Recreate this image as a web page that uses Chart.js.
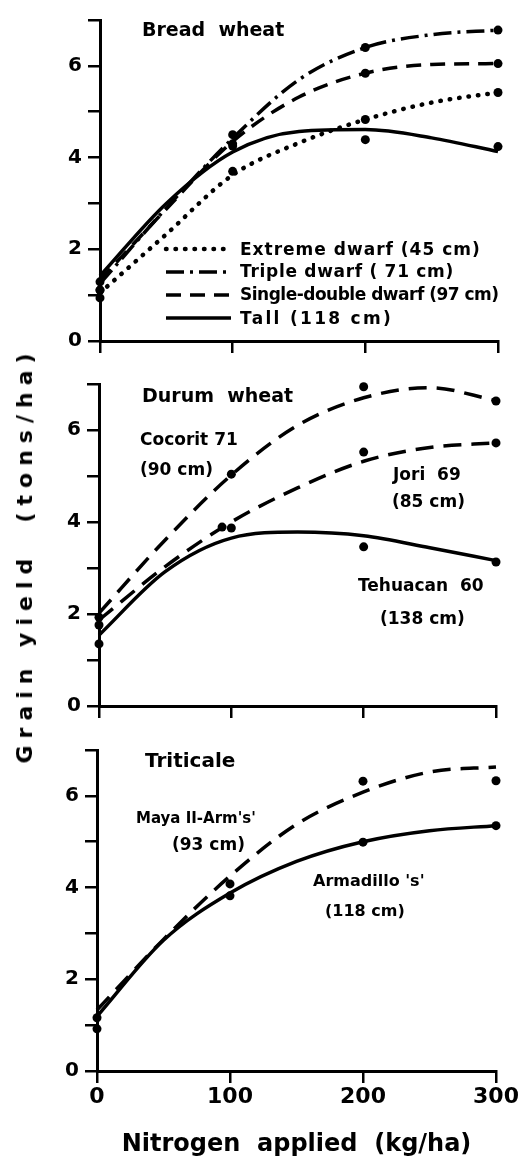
<!DOCTYPE html>
<html>
<head>
<meta charset="utf-8">
<script src="https://cdn.jsdelivr.net/npm/chart.js@4.4.1/dist/chart.umd.min.js"></script>
<style>
  body { margin: 0; background: #fff; }
  #page { position: relative; width: 524px; height: 1163px; overflow: hidden; background: #fff;
          font-family: 'DejaVu Sans', sans-serif; font-weight: bold; color: #000; }
  canvas { position: absolute; left: 0; }
  .lbl { position: absolute; white-space: pre; line-height: 1; }
  #ytitle { position: absolute; left: 25px; top: 555px; font-size: 22px; letter-spacing: 7px;
            white-space: pre; line-height: 1; transform: translate(-50%, -50%) rotate(-90deg); }
</style>
</head>
<body>
<div id="page">
  <canvas id="bread" width="524" height="370" style="top:0px"></canvas>
  <canvas id="durum" width="524" height="380" style="top:360px"></canvas>
  <canvas id="triticale" width="524" height="443" style="top:720px"></canvas>

  <div class="lbl" style="left:142px;top:20px;font-size:19px">Bread  wheat</div>
  <div class="lbl" style="left:240px;top:241px;font-size:17px;letter-spacing:1px">Extreme dwarf (45 cm)</div>
  <div class="lbl" style="left:240px;top:263px;font-size:17px;letter-spacing:0.7px">Triple dwarf ( 71 cm)</div>
  <div class="lbl" style="left:240px;top:286px;font-size:17px;letter-spacing:-0.5px">Single-double dwarf (97 cm)</div>
  <div class="lbl" style="left:240px;top:310px;font-size:17px;letter-spacing:2.3px">Tall (118 cm)</div>

  <div class="lbl" style="left:142px;top:386px;font-size:19px">Durum  wheat</div>
  <div class="lbl" style="left:140px;top:431px;font-size:17px">Cocorit 71</div>
  <div class="lbl" style="left:140px;top:461px;font-size:17px">(90 cm)</div>
  <div class="lbl" style="left:393px;top:466px;font-size:17px">Jori  69</div>
  <div class="lbl" style="left:392px;top:493px;font-size:17px">(85 cm)</div>
  <div class="lbl" style="left:358px;top:577px;font-size:17px">Tehuacan  60</div>
  <div class="lbl" style="left:380px;top:610px;font-size:17px">(138 cm)</div>

  <div class="lbl" style="left:145px;top:750px;font-size:20px">Triticale</div>
  <div class="lbl" style="left:136px;top:811px;font-size:15px">Maya II-Arm's'</div>
  <div class="lbl" style="left:172px;top:836px;font-size:17px">(93 cm)</div>
  <div class="lbl" style="left:313px;top:873px;font-size:16px">Armadillo 's'</div>
  <div class="lbl" style="left:325px;top:903px;font-size:16px">(118 cm)</div>

  <div id="ytitle">Grain yield  (tons/ha)</div>
</div>
<script>
// nitrogen levels (kg/ha)
const nitrogenObserved = [0, 100, 200, 300];
const nitrogenCurve = [0, 50, 100, 150, 200, 250, 300];

// Bread wheat - observed points and fitted curves (t/ha)
const extremeDwarfObs = [0.94, 3.70, 4.83, 5.42];
const tripleDwarfObs = [1.11, 4.50, 6.40, 6.78];
const singleDoubleObs = [1.11, 4.30, 5.84, 6.05];
const tallObs = [1.29, 4.25, 4.39, 4.24];
const extremeDwarfFit = [1.05, 2.33, 3.62, 4.32, 4.83, 5.20, 5.42];
const tripleDwarfFit = [1.25, 2.90, 4.42, 5.70, 6.40, 6.68, 6.78];
const singleDoubleFit = [1.33, 2.88, 4.35, 5.32, 5.84, 6.03, 6.05];
const tallFit = [1.42, 3.00, 4.12, 4.57, 4.61, 4.43, 4.13];

// Durum wheat
const cocoritObs = [1.93, 5.04, 6.94, 6.63];
const joriObsN = [0, 93, 200, 300];
const joriObs = [1.76, 3.89, 5.52, 5.72];
const tehuacanObs = [1.35, 3.87, 3.46, 3.13];
const cocoritFit = [2.02, 3.61, 5.02, 6.10, 6.70, 6.92, 6.64];
const joriFit = [1.87, 3.03, 4.00, 4.74, 5.32, 5.62, 5.72];
const tehuacanFit = [1.54, 2.92, 3.65, 3.78, 3.70, 3.44, 3.16];

// Triticale
const mayaObs = [1.16, 4.08, 6.32, 6.33];
const armadilloObs = [0.92, 3.82, 4.99, 5.35];
const mayaFit = [1.33, 2.87, 4.25, 5.38, 6.08, 6.52, 6.63];
const armadilloFit = [1.19, 2.85, 3.88, 4.57, 5.00, 5.24, 5.35];

const FONT = "'DejaVu Sans', sans-serif";
const SOLID = [];
const DASHED = [15, 9];
const LONG_DASH = [18, 10];
const DASH_DOT = [18, 6, 3, 6];
const DOTTED = [0.5, 9];

function curve(values, dash, cap) {
  return {
    data: nitrogenCurve.map((n, i) => ({ x: n, y: values[i] })),
    showLine: true,
    borderColor: '#000',
    borderWidth: dash === DOTTED ? 4.5 : 3.5,
    borderDash: dash,
    borderCapStyle: cap || 'butt',
    pointRadius: 0,
    cubicInterpolationMode: 'monotone',
    clip: false
  };
}

function points(values, xs) {
  xs = xs || nitrogenObserved;
  return {
    data: xs.map((n, i) => ({ x: n, y: values[i] })),
    showLine: false,
    pointRadius: 4.5,
    pointBackgroundColor: '#000',
    pointBorderWidth: 0,
    clip: false
  };
}

// draws the little line samples of the bread wheat key (text is html)
const keySamples = {
  id: 'keySamples',
  afterDraw(chart) {
    if (chart.canvas.id !== 'bread') return;
    const ctx = chart.ctx;
    const rows = [249, 272, 295, 318];
    rows.forEach((y, i) => {
      const ds = chart.data.datasets[i];
      ctx.save();
      ctx.strokeStyle = '#000';
      ctx.lineWidth = ds.borderWidth;
      ctx.lineCap = ds.borderCapStyle;
      ctx.setLineDash(ds.borderDash);
      ctx.beginPath();
      ctx.moveTo(166, y);
      ctx.lineTo(231, y);
      ctx.stroke();
      ctx.restore();
    });
  }
};

function makePanel(id, box, datasets, showX) {
  const axisGrid = { drawOnChartArea: false, drawTicks: true, tickLength: 12, color: '#000', lineWidth: 2.5 };
  return new Chart(document.getElementById(id), {
    type: 'scatter',
    data: { datasets: datasets },
    options: {
      responsive: false,
      animation: false,
      devicePixelRatio: 1,
      layout: { padding: { top: box.top, right: box.right, left: 0, bottom: 0 } },
      plugins: { legend: { display: false }, tooltip: { enabled: false } },
      scales: {
        x: {
          type: 'linear',
          min: 0,
          max: 300,
          afterFit: (s) => { s.height = box.xh; },
          border: { display: true, color: '#000', width: 3 },
          grid: axisGrid,
          ticks: { stepSize: 100, display: showX, color: '#000', padding: 1, maxRotation: 0,
                   font: { family: FONT, size: 22, weight: 'bold' } },
          title: {
            display: showX,
            text: 'Nitrogen  applied  (kg/ha)',
            color: '#000',
            padding: { top: 0, bottom: 4 },
            font: { family: FONT, size: 24, weight: 'bold' }
          }
        },
        y: {
          min: 0,
          max: 7,
          afterFit: (s) => { s.width = box.left; },
          border: { display: true, color: '#000', width: 3 },
          grid: axisGrid,
          ticks: { stepSize: 1, color: '#000', padding: 6,
                   callback: (v) => (v % 2 === 0 ? v : ''),
                   font: { family: FONT, size: 20, weight: 'bold' } }
        }
      }
    },
    plugins: [keySamples]
  });
}

makePanel('bread', { top: 20, right: 26, left: 100, xh: 29 }, [
  curve(extremeDwarfFit, DOTTED, 'round'),
  curve(tripleDwarfFit, DASH_DOT),
  curve(singleDoubleFit, DASHED),
  curve(tallFit, SOLID),
  points(extremeDwarfObs),
  points(tripleDwarfObs),
  points(singleDoubleObs),
  points(tallObs)
], false);

makePanel('durum', { top: 24, right: 28, left: 99, xh: 34 }, [
  curve(cocoritFit, LONG_DASH),
  curve(joriFit, LONG_DASH),
  curve(tehuacanFit, SOLID),
  points(cocoritObs),
  points(joriObs, joriObsN),
  points(tehuacanObs)
], false);

makePanel('triticale', { top: 30, right: 28, left: 97, xh: 92 }, [
  curve(mayaFit, LONG_DASH),
  curve(armadilloFit, SOLID),
  points(mayaObs),
  points(armadilloObs)
], true);
</script>
</body>
</html>
